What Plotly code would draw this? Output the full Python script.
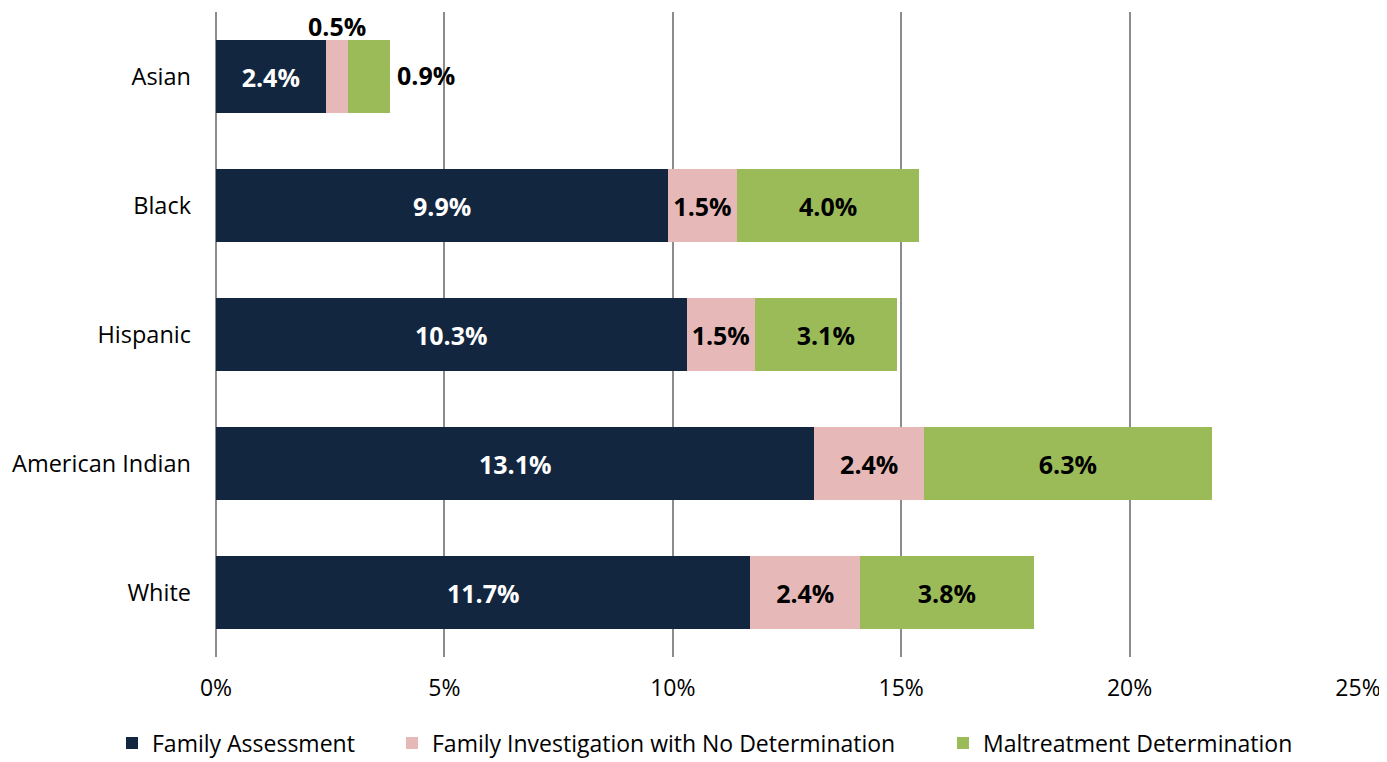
import plotly.graph_objects as go

categories = ["Asian", "Black", "Hispanic", "American Indian", "White"]
family_assessment = [2.4, 9.9, 10.3, 13.1, 11.7]
investigation_no_det = [0.5, 1.5, 1.5, 2.4, 2.4]
maltreatment_det = [0.9, 4.0, 3.1, 6.3, 3.8]
series_names = ["Family Assessment", "Family Investigation with No Determination", "Maltreatment Determination"]
colors = ["#132640", "#E6B9B8", "#9BBB59"]
text_colors = ["white", "black", "black"]
x_ticks = [0, 5, 10, 15, 20, 25]

series = [family_assessment, investigation_no_det, maltreatment_det]
FONT = "Open Sans"
LBL = 25
W, H = 1379, 752
legend_ids = ["legend", "legend2", "legend3"]
legend_left_px = [104, 384, 935]  # in-figure pixel position of each legend box

fig = go.Figure()
for name, vals, col, tc, lg in zip(series_names, series, colors, text_colors, legend_ids):
    texts = []
    for cat, v in zip(categories, vals):
        if cat == "Asian" and name != series_names[0]:
            texts.append("")
        else:
            texts.append(f"{v:.1f}%")
    fig.add_trace(go.Bar(
        y=categories, x=vals, name=name, orientation="h", legend=lg,
        marker=dict(color=col, line=dict(width=0)),
        text=texts, textposition="inside", insidetextanchor="middle",
        textfont=dict(color=tc, size=LBL, family=FONT, weight="bold"),
        textangle=0, constraintext="none",
        hoverinfo="x+y+name",
    ))

# Outside labels for the small Asian segments
a0, a1, a2 = family_assessment[0], investigation_no_det[0], maltreatment_det[0]
fig.add_annotation(x=a0 + a1 / 2, y="Asian", text=f"<b>{a1:.1f}%</b>", showarrow=False,
                   yshift=51, borderpad=0, font=dict(size=LBL, family=FONT, color="black"))
fig.add_annotation(x=a0 + a1 + a2, y="Asian", text=f"<b>{a2:.1f}%</b>", showarrow=False,
                   xanchor="left", xshift=5, yshift=2, font=dict(size=LBL, family=FONT, color="black"))

legend_common = dict(orientation="h", xref="container", xanchor="left",
                     yref="container", y=(H - 735) / H, yanchor="middle",
                     font=dict(size=23), itemwidth=30, bgcolor="rgba(0,0,0,0)")
legends = {}
for lg, px in zip(legend_ids, legend_left_px):
    legends[lg] = dict(legend_common, x=px / W)

fig.update_layout(
    barmode="stack",
    bargap=0.43,
    width=W, height=H,
    margin=dict(l=208, r=29, t=4, b=103),
    plot_bgcolor="white", paper_bgcolor="white",
    font=dict(family=FONT, size=23, color="black"),
    xaxis=dict(range=[0, 25], tickvals=x_ticks, ticktext=[f"{t}%" for t in x_ticks],
               showgrid=True, gridcolor="#8C8C8C", gridwidth=1.5, zeroline=True,
               zerolinecolor="#8C8C8C", zerolinewidth=1.5, showline=False,
               tickfont=dict(size=23), ticks="", ticklen=0, ticklabelstandoff=15),
    yaxis=dict(categoryorder="array", categoryarray=categories, autorange="reversed",
               showgrid=False, showline=False, ticks="", tickfont=dict(size=23.5),
               ticklabelstandoff=24),
    showlegend=True,
    **legends,
)
fig.update_xaxes(automargin=False)
fig.update_yaxes(automargin=False)

fig.write_html("out.html")
